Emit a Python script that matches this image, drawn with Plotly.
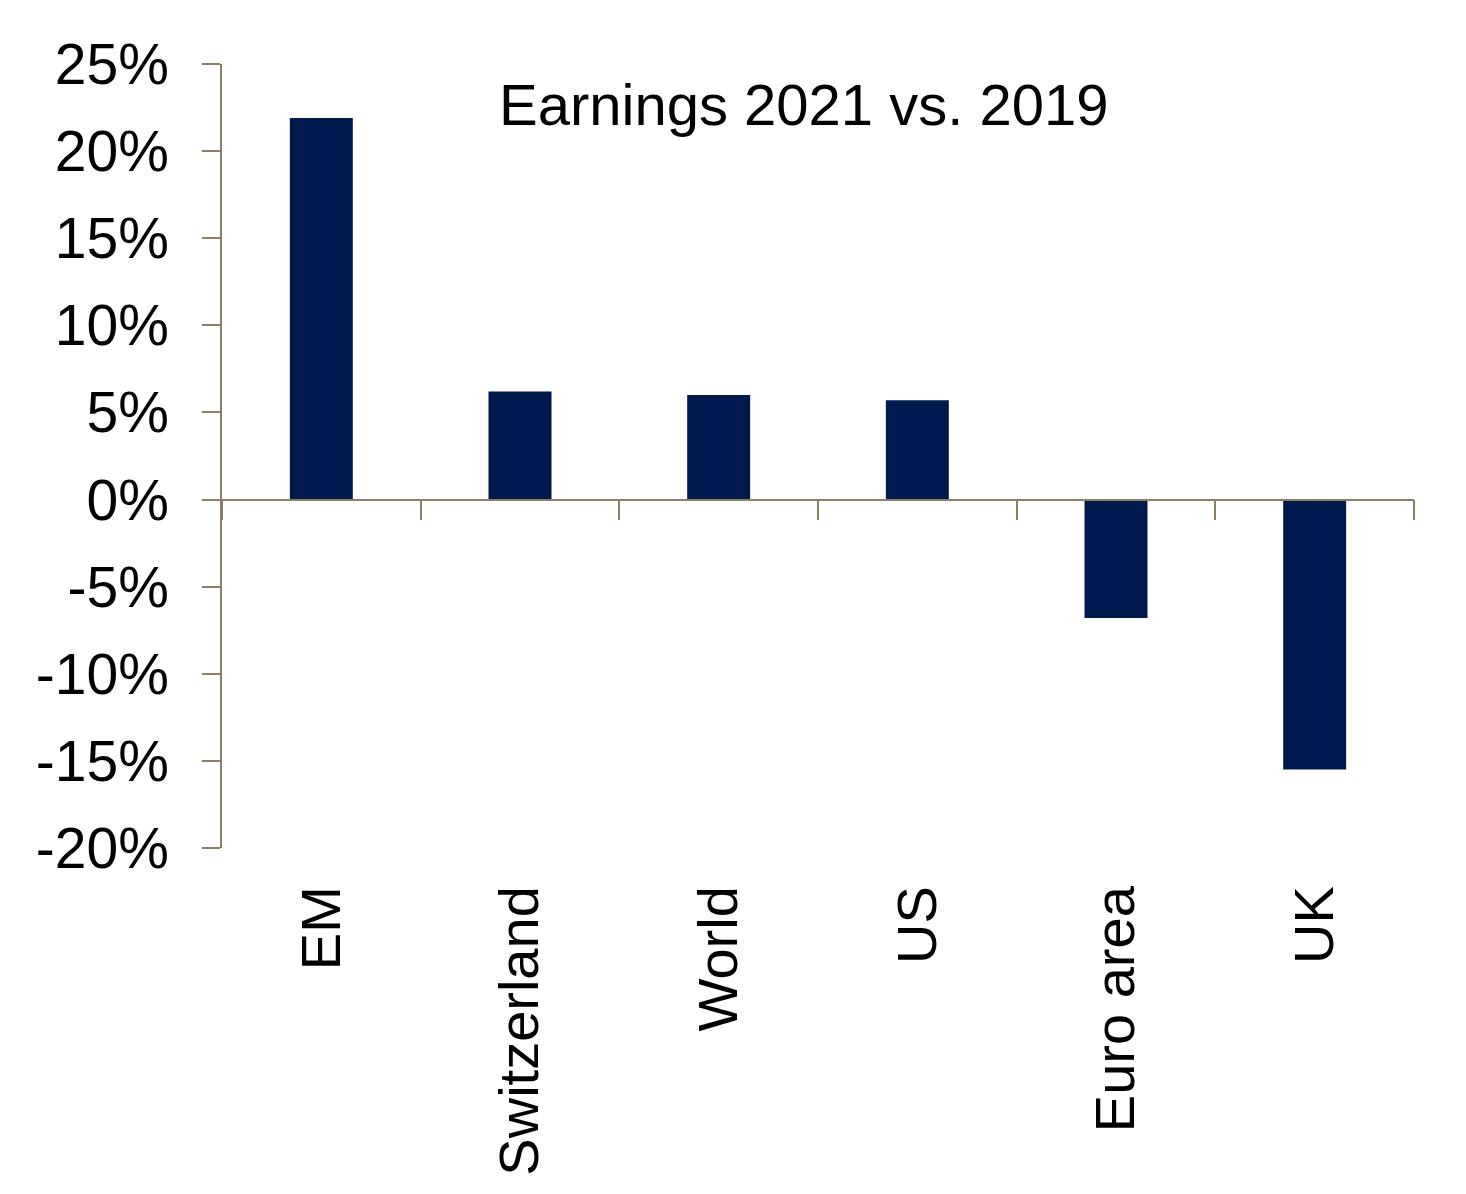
import plotly.graph_objects as go

categories = ["EM", "Switzerland", "World", "US", "Euro area", "UK"]
earnings_change = [0.219, 0.062, 0.060, 0.057, -0.068, -0.155]
y_tick_values = [-0.20, -0.15, -0.10, -0.05, 0.0, 0.05, 0.10, 0.15, 0.20, 0.25]
y_tick_labels = ["-20%", "-15%", "-10%", "-5%", "0%", "5%", "10%", "15%", "20%", "25%"]
title_text = "Earnings 2021 vs. 2019"

BAR = "#001A50"
AXIS = "#8C7F65"
FONT = "Liberation Sans, Arial, sans-serif"

y_min, y_max = -0.20, 0.25

fig = go.Figure()
fig.add_trace(go.Bar(x=categories, y=earnings_change, marker=dict(color=BAR, line=dict(width=0)),
                     showlegend=False, hoverinfo="x+y"))
# helper trace so the zero-line axis carries the category ticks
fig.add_trace(go.Scatter(x=categories, y=earnings_change, xaxis="x2", mode="markers",
                         marker=dict(opacity=0), showlegend=False, hoverinfo="skip"))

fig.update_layout(
    width=1466, height=1194,
    margin=dict(l=214, r=60, t=56, b=354),
    paper_bgcolor="white", plot_bgcolor="white",
    bargap=0.683,
    font=dict(family=FONT, size=57, color="black"),
    xaxis=dict(type="category", categoryorder="array", categoryarray=categories,
               range=[-0.5, len(categories) - 0.5],
               showline=False, ticks="", showgrid=False, zeroline=False,
               tickangle=-90, tickfont=dict(size=56), ticklabelstandoff=26),
    xaxis2=dict(type="category", categoryorder="array", categoryarray=categories,
                range=[-0.5, len(categories) - 0.5],
                overlaying="x", anchor="free", side="bottom",
                position=(0 - y_min) / (y_max - y_min),
                showline=True, linecolor=AXIS, linewidth=1.5,
                ticks="outside", tickson="boundaries", ticklen=20, tickwidth=1.5, tickcolor=AXIS,
                showticklabels=False, showgrid=False, zeroline=False),
    yaxis=dict(range=[y_min, y_max], tickvals=y_tick_values, ticktext=y_tick_labels,
               showline=True, linecolor=AXIS, linewidth=1.5,
               ticks="outside", ticklen=18, tickwidth=1.5, tickcolor=AXIS,
               showgrid=False, zeroline=False, tickfont=dict(size=57),
               ticklabelstandoff=22),
    annotations=[dict(text=title_text, xref="paper", yref="paper", x=0.488, y=0.948,
                      xanchor="center", yanchor="middle", showarrow=False,
                      font=dict(size=58, family=FONT, color="black"))],
)

fig.write_html("out.html")
